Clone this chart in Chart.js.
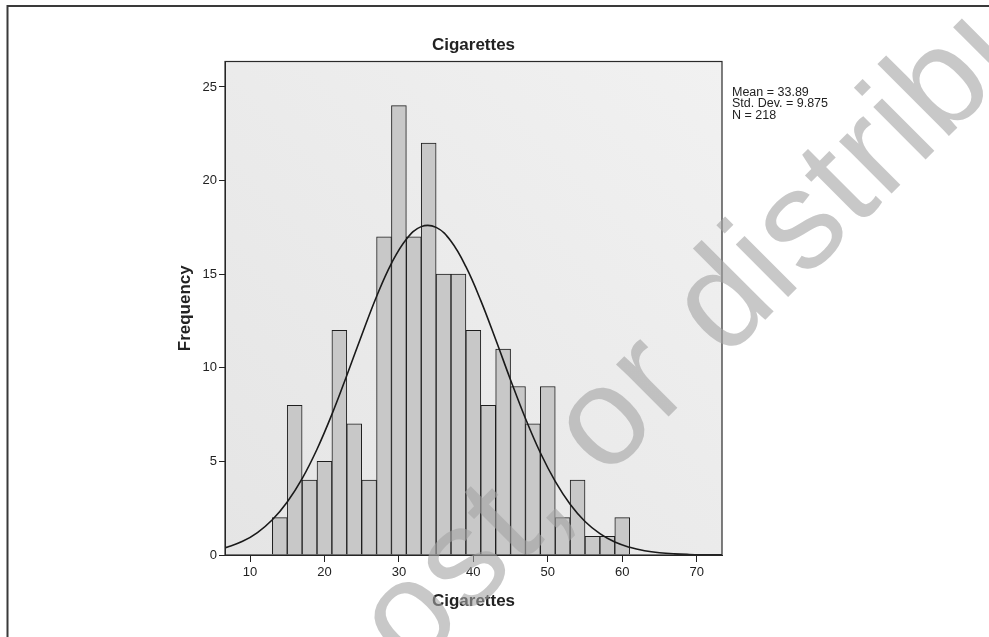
<!DOCTYPE html>
<html>
<head>
<meta charset="utf-8">
<script src="https://cdn.jsdelivr.net/npm/chart.js@4.4.0/dist/chart.umd.min.js"></script>
<style>
html,body{margin:0;padding:0;background:#fff;}
canvas{display:block;}
</style>
</head>
<body>
<canvas id="c" width="989" height="637"></canvas>
<script>
// ---- data ----
const binStarts   = [13,15,17,19,21,23,25,27,29,31,33,35,37,39,41,43,45,47,49,51,53,55,57,59];
const frequencies = [2, 8, 4, 5, 12,7, 4, 17,24,17,22,15,15,12,8, 11,9, 7, 9, 2, 4, 1, 1, 2];
const binWidth = 2;
// normal curve
const curveX = [6,7,9,11,13,15,17,19,21,23,25,27,29,31,33,35,37,39,41,43,45,47,49,51,53,55,57,59,61,63,65,67,69,71,73,75];
const curveY = [0.33,0.43,0.73,1.20,1.88,2.83,4.08,5.65,7.51,9.59,11.74,13.81,15.58,16.87,17.54,17.50,16.76,15.40,13.59,11.51,9.35,7.29,5.46,3.93,2.71,1.79,1.14,0.69,0.41,0.23,0.12,0.06,0.03,0.015,0.007,0.003];
const xTicks = [10,20,30,40,50,60,70];
const yTicks = [0,5,10,15,20,25];
const statsLines = ["Mean = 33.89", "Std. Dev. = 9.875", "N = 218"];
const chartTitle = "Cigarettes";
const xTitle = "Cigarettes";
const yTitle = "Frequency";
const watermark = "post, or distribute";

const FONT = "Arial, 'Liberation Sans', sans-serif";

const barData = binStarts.map((s, i) => ({x: s + binWidth / 2, y: frequencies[i]}));
const lineData = curveX.map((x, i) => ({x: x, y: curveY[i]}));

const decorPlugin = {
  id: 'decor',
  beforeDraw(chart) {
    const {ctx, chartArea: a} = chart;
    ctx.save();
    ctx.fillStyle = '#ffffff';
    ctx.fillRect(0, 0, chart.width, chart.height);
    const g = ctx.createLinearGradient(a.left, a.bottom, a.right, a.top);
    g.addColorStop(0, '#e5e5e5');
    g.addColorStop(1, '#f1f1f1');
    ctx.fillStyle = g;
    ctx.fillRect(a.left, a.top, a.right - a.left, a.bottom - a.top);
    ctx.restore();
  },
  afterDraw(chart) {
    const {ctx, chartArea: a} = chart;
    ctx.save();
    // plot frame
    ctx.strokeStyle = '#2a2a2a';
    ctx.lineWidth = 1.2;
    ctx.strokeRect(a.left, a.top, a.right - a.left, a.bottom - a.top);
    // chart title, centred over the plot
    ctx.fillStyle = '#222';
    ctx.font = 'bold 17px ' + FONT;
    ctx.textAlign = 'center';
    ctx.textBaseline = 'middle';
    ctx.fillText(chartTitle, (a.left + a.right) / 2, 45);
    // stats box
    ctx.font = '12.5px ' + FONT;
    ctx.textAlign = 'left';
    statsLines.forEach((t, i) => ctx.fillText(t, a.right + 10, a.top + 31 + i * 11.5));
    // outer frame (top and left)
    ctx.strokeStyle = '#3a3a3a';
    ctx.lineWidth = 2;
    ctx.beginPath();
    ctx.moveTo(7.5, chart.height);
    ctx.lineTo(7.5, 6);
    ctx.lineTo(chart.width, 6);
    ctx.stroke();
    // watermark
    ctx.translate(725, 360);
    ctx.rotate(-45 * Math.PI / 180);
    ctx.font = '140px ' + FONT;
    try { ctx.letterSpacing = '2px'; } catch (e) {}
    ctx.fillStyle = 'rgba(163,163,163,0.6)';
    ctx.textBaseline = 'alphabetic';
    ctx.textAlign = 'left';
    const off = ctx.measureText('post, or ').width;
    ctx.fillText(watermark, -off, 0);
    ctx.restore();
  }
};

new Chart(document.getElementById('c'), {
  type: 'bar',
  data: {
    datasets: [
      {
        type: 'line',
        data: lineData,
        borderColor: '#1a1a1a',
        borderWidth: 1.6,
        pointRadius: 0,
        tension: 0.4,
        fill: false,
        clip: 0,
        order: 0
      },
      {
        type: 'bar',
        data: barData,
        backgroundColor: '#c8c8c8',
        borderColor: '#1e1e1e',
        borderWidth: 1,
        borderSkipped: 'start',
        barPercentage: 1,
        categoryPercentage: 1,
        order: 1
      }
    ]
  },
  options: {
    responsive: false,
    animation: false,
    events: [],
    layout: {padding: {left: 165, right: 267, top: 61.5, bottom: 0}},
    plugins: {
      legend: {display: false},
      tooltip: {enabled: false},
      title: {display: false}
    },
    scales: {
      x: {
        type: 'linear',
        min: 6.64,
        max: 73.4,
        offset: false,
        grid: {display: true, drawOnChartArea: false, drawTicks: true, tickLength: 7, color: '#222', offset: false},
        border: {display: true, color: '#222', width: 1},
        ticks: {includeBounds: false, color: '#222', font: {family: FONT, size: 13}, padding: 3, maxRotation: 0},
        afterBuildTicks(s) { s.ticks = xTicks.map(v => ({value: v})); },
        afterFit(s) { s.height = 82; },
        title: {display: true, text: xTitle, color: '#222', font: {family: FONT, size: 17, weight: 'bold'}, padding: {top: 0, bottom: 25.5}}
      },
      y: {
        type: 'linear',
        min: 0,
        max: 26.36,
        grid: {display: true, drawOnChartArea: false, drawTicks: true, tickLength: 6, color: '#222'},
        border: {display: true, color: '#222', width: 1},
        ticks: {includeBounds: false, color: '#222', font: {family: FONT, size: 13}, padding: 2},
        afterBuildTicks(s) { s.ticks = yTicks.map(v => ({value: v})); },
        afterFit(s) { s.width = 60; },
        title: {display: true, text: yTitle, color: '#222', font: {family: FONT, size: 17, weight: 'bold'}, padding: {top: 10, bottom: 0}}
      }
    }
  },
  plugins: [decorPlugin]
});
</script>
</body>
</html>
